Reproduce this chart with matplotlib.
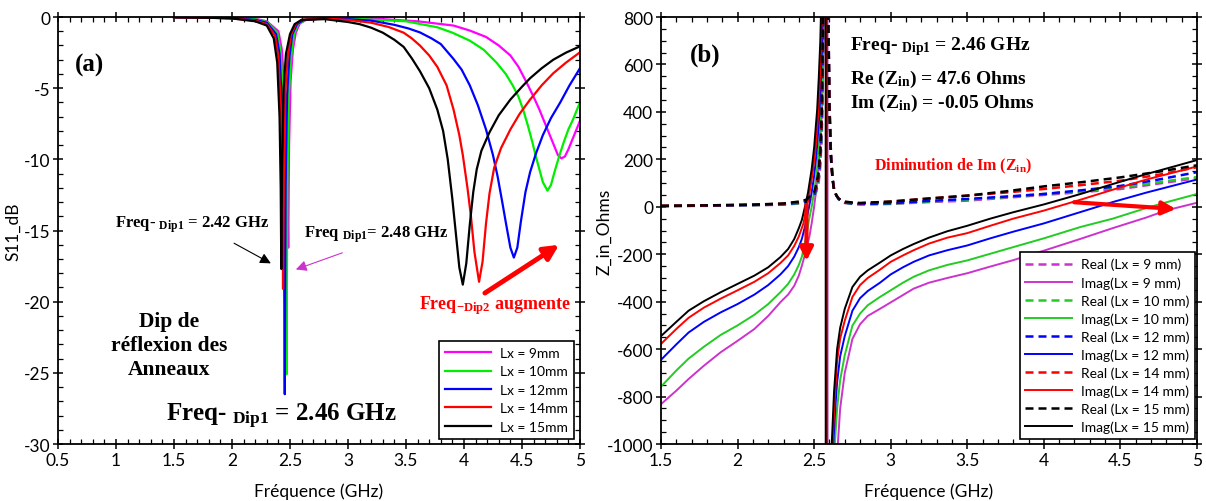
import matplotlib.pyplot as plt
from matplotlib.ticker import MultipleLocator

plt.rcParams['font.family'] = ['Lato', 'DejaVu Sans']
plt.rcParams['axes.unicode_minus'] = False
plt.rcParams['mathtext.fontset'] = 'custom'
plt.rcParams['mathtext.rm'] = 'Liberation Serif:bold'
plt.rcParams['mathtext.bf'] = 'Liberation Serif:bold'
plt.rcParams['mathtext.it'] = 'Liberation Serif:bold'

# ---------- (a) S11 (dB) ----------
f9 = [1.5, 1.8, 2.0, 2.2, 2.3, 2.4, 2.43, 2.46, 2.475, 2.485, 2.492, 2.505, 2.525, 2.55, 2.585, 2.64,
      2.8, 3.0, 3.3, 3.6, 3.91, 4.05, 4.19, 4.3, 4.4, 4.47, 4.54, 4.6, 4.65, 4.7, 4.74, 4.78, 4.81,
      4.84, 4.87, 4.9, 4.94, 4.97, 5.0]
s9 = [-0.01, -0.02, -0.05, -0.12, -0.3, -1.0, -2.3, -6.0, -10.5, -16.2, -9.0, -4.5, -2.3, -1.1, -0.45, -0.2,
      -0.07, -0.08, -0.15, -0.3, -0.6, -0.95, -1.4, -2.0, -2.7, -3.5, -4.6, -5.6, -6.5, -7.5, -8.3, -9.1, -9.7,
      -9.93, -9.8, -9.3, -8.5, -7.9, -7.3]

f10 = [1.5, 1.8, 2.0, 2.2, 2.3, 2.39, 2.42, 2.45, 2.462, 2.47, 2.477, 2.49, 2.51, 2.535, 2.57, 2.63,
       2.8, 3.0, 3.5, 3.77, 3.9, 4.05, 4.17, 4.28, 4.36, 4.42, 4.47, 4.51, 4.55, 4.59, 4.62, 4.65, 4.68,
       4.72, 4.75, 4.78, 4.82, 4.86, 4.9, 4.94, 5.0]
s10 = [-0.01, -0.03, -0.06, -0.15, -0.35, -1.1, -2.5, -7.0, -13.0, -25.1, -12.0, -5.5, -2.8, -1.2, -0.5, -0.2,
       -0.08, -0.1, -0.3, -0.72, -1.1, -1.66, -2.3, -3.2, -4.0, -4.8, -5.6, -6.5, -7.6, -8.8, -9.8, -10.7, -11.6,
       -12.2, -11.8, -10.9, -9.8, -8.8, -7.9, -7.2, -6.0]

f12 = [1.5, 1.8, 2.0, 2.2, 2.3, 2.38, 2.41, 2.435, 2.447, 2.455, 2.462, 2.475, 2.495, 2.52, 2.56, 2.62,
       2.8, 3.0, 3.2, 3.4, 3.52, 3.62, 3.72, 3.8, 3.91, 3.98, 4.05, 4.12, 4.19, 4.25, 4.29, 4.33, 4.36,
       4.40, 4.43, 4.46, 4.49, 4.53, 4.57, 4.62, 4.68, 4.75, 4.83, 4.91, 5.0]
s12 = [-0.02, -0.04, -0.08, -0.2, -0.4, -1.2, -2.6, -7.0, -13.0, -26.5, -12.0, -5.5, -2.8, -1.2, -0.5, -0.2,
       -0.1, -0.15, -0.25, -0.55, -0.8, -1.08, -1.5, -1.9, -2.95, -3.7, -4.8, -6.2, -7.9, -9.7, -11.2, -13.0, -14.4,
       -16.2, -16.9, -16.2, -14.4, -12.3, -10.9, -9.6, -8.3, -7.1, -6.0, -4.8, -3.6]

f14 = [1.5, 1.8, 2.0, 2.2, 2.3, 2.37, 2.40, 2.425, 2.435, 2.44, 2.447, 2.46, 2.48, 2.51, 2.55, 2.6,
       2.8, 3.0, 3.2, 3.35, 3.48, 3.55, 3.62, 3.7, 3.77, 3.85, 3.91, 3.96, 3.99, 4.03, 4.06, 4.09, 4.13,
       4.16, 4.19, 4.22, 4.26, 4.32, 4.4, 4.48, 4.57, 4.67, 4.77, 4.88, 5.0]
s14 = [-0.02, -0.05, -0.1, -0.25, -0.5, -1.3, -2.8, -7.0, -12.5, -19.1, -11.0, -5.2, -2.8, -1.2, -0.5, -0.2,
       -0.1, -0.2, -0.4, -0.7, -1.1, -1.5, -2.0, -2.7, -3.5, -4.8, -6.5, -8.3, -9.7, -12.0, -14.0, -16.5, -18.6,
       -17.2, -14.5, -12.4, -10.6, -9.2, -7.9, -6.8, -5.8, -4.8, -3.95, -3.2, -2.48]

f15 = [1.5, 1.8, 2.0, 2.2, 2.3, 2.36, 2.39, 2.41, 2.42, 2.425, 2.432, 2.445, 2.465, 2.5, 2.54, 2.6,
       2.8, 3.0, 3.1, 3.2, 3.3, 3.4, 3.48, 3.55, 3.62, 3.7, 3.77, 3.82, 3.86, 3.9, 3.93, 3.96, 3.99,
       4.02, 4.05, 4.08, 4.11, 4.15, 4.22, 4.3, 4.4, 4.5, 4.57, 4.67, 4.77, 4.88, 5.0]
s15 = [-0.02, -0.05, -0.1, -0.3, -0.6, -1.5, -3.2, -7.0, -12.0, -17.7, -10.5, -5.0, -2.6, -1.2, -0.5, -0.2,
       -0.15, -0.35, -0.5, -0.75, -1.1, -1.6, -2.1, -2.9, -3.8, -5.0, -6.5, -8.0, -10.0, -12.8, -15.2, -17.6, -18.8,
       -17.3, -14.6, -12.3, -10.7, -9.4, -8.1, -6.9, -5.8, -4.9, -4.3, -3.6, -3.0, -2.5, -2.06]

labels_a = ['Lx = 9mm', 'Lx = 10mm', 'Lx = 12mm', 'Lx = 14mm', 'Lx = 15mm']

# ---------- (b) Z_in (Ohms) ----------
fr = [1.5, 1.8, 2.1, 2.3, 2.4, 2.45, 2.5, 2.515, 2.53, 2.54, 2.55, 2.56, 2.575, 2.59, 2.6, 2.61, 2.62,
      2.63, 2.645, 2.66, 2.68, 2.7, 2.75, 2.8, 3.0, 3.25, 3.5, 3.75, 4.0, 4.25, 4.5, 4.75, 5.0]
re9 = [3, 4, 6, 9, 14, 20, 40, 65, 105, 170, 300, 700, 2100, 950, 430, 220, 125, 75, 48, 32, 22, 16, 12, 10,
       12, 20, 26, 38, 50, 62, 75, 98, 121]
re10 = [3, 5, 7, 10, 15, 22, 44, 70, 115, 185, 320, 750, 2200, 950, 430, 220, 125, 75, 48, 32, 23, 17, 13, 11,
        13, 22, 30, 41, 54, 66, 82, 104, 125]
re12 = [3, 5, 8, 11, 17, 24, 48, 78, 125, 200, 350, 800, 2300, 950, 430, 220, 125, 75, 49, 33, 24, 18, 14, 12,
        15, 25, 33, 43, 54, 70, 88, 115, 146]
re14 = [4, 6, 9, 13, 20, 28, 55, 88, 140, 225, 380, 850, 2400, 950, 420, 210, 120, 72, 48, 34, 26, 20, 17, 15,
        22, 35, 47, 60, 75, 92, 110, 135, 167]
re15 = [4, 6, 9, 14, 22, 30, 60, 95, 150, 240, 400, 900, 2500, 900, 400, 200, 115, 70, 48, 35, 27, 22, 18, 16,
        22, 35, 47, 65, 86, 104, 124, 148, 175]

fi9 = [1.5, 1.6, 1.68, 1.78, 1.89, 2.0, 2.11, 2.2, 2.28, 2.33, 2.37, 2.4, 2.42, 2.445, 2.47, 2.485, 2.5,
       2.515, 2.53, 2.54, 2.55, 2.558, 2.565, 2.575, 2.587, 2.588, 2.63, 2.655, 2.67, 2.7, 2.75, 2.8,
       2.85, 2.93, 3.0, 3.08, 3.15, 3.25, 3.37, 3.5, 3.65, 3.8, 4.0, 4.24, 4.45, 4.67, 4.8, 5.0]
im9 = [-832, -775, -726, -670, -613, -565, -515, -460, -402, -370, -333, -290, -248, -190, -122, -65, 0,
       80, 180, 270, 400, 550, 750, 1200, 4000, -4000, -1400, -1000, -850, -700, -557, -495,
       -460, -430, -403, -372, -345, -320, -300, -280, -252, -225, -185, -135, -90, -45, -15, 17]

fi10 = [1.5, 1.6, 1.68, 1.78, 1.89, 2.0, 2.11, 2.2, 2.28, 2.33, 2.37, 2.4, 2.42, 2.45, 2.465, 2.484, 2.5,
        2.515, 2.53, 2.54, 2.55, 2.558, 2.565, 2.575, 2.584, 2.585, 2.615, 2.635, 2.65, 2.67, 2.7, 2.75, 2.8,
        2.85, 2.93, 3.0, 3.08, 3.15, 3.25, 3.37, 3.5, 3.65, 3.8, 4.0, 4.24, 4.45, 4.67, 4.8, 5.0]
im10 = [-758, -690, -640, -590, -540, -500, -455, -410, -360, -325, -285, -245, -210, -120, -60, 0, 65,
        130, 240, 350, 490, 650, 900, 1500, 4000, -4000, -1400, -1000, -850, -730, -625, -501, -450,
        -415, -380, -352, -320, -295, -268, -245, -226, -198, -170, -133, -85, -50, -5, 19, 54]

fi12 = [1.5, 1.6, 1.68, 1.78, 1.89, 2.0, 2.11, 2.2, 2.28, 2.33, 2.37, 2.4, 2.42, 2.445, 2.467, 2.485, 2.5,
        2.515, 2.53, 2.54, 2.55, 2.56, 2.57, 2.581, 2.582, 2.61, 2.625, 2.64, 2.65, 2.67, 2.7, 2.75, 2.8,
        2.85, 2.93, 3.0, 3.08, 3.15, 3.25, 3.37, 3.5, 3.65, 3.8, 4.0, 4.24, 4.45, 4.67, 4.85, 5.0]
im12 = [-645, -580, -530, -485, -445, -410, -370, -330, -285, -250, -210, -170, -135, -70, 0, 65, 130,
        220, 350, 470, 650, 900, 1500, 4000, -4000, -1400, -1000, -830, -740, -630, -545, -438, -385,
        -355, -320, -285, -255, -232, -205, -183, -163, -133, -105, -70, -22, 20, 60, 90, 115]

fi14 = [1.5, 1.6, 1.68, 1.78, 1.89, 2.0, 2.11, 2.2, 2.28, 2.33, 2.37, 2.4, 2.43, 2.452, 2.47, 2.49, 2.51,
        2.525, 2.535, 2.545, 2.555, 2.565, 2.578, 2.579, 2.605, 2.62, 2.635, 2.65, 2.67, 2.7, 2.75, 2.8,
        2.85, 2.93, 3.0, 3.08, 3.15, 3.25, 3.37, 3.5, 3.65, 3.8, 4.0, 4.24, 4.45, 4.67, 4.85, 5.0]
im14 = [-578, -515, -468, -425, -387, -352, -316, -280, -237, -205, -165, -125, -70, 0, 60, 140, 250,
        380, 500, 680, 950, 1400, 4000, -4000, -1400, -1000, -800, -650, -555, -480, -380, -330,
        -300, -265, -232, -205, -183, -155, -130, -111, -80, -50, -16, 30, 72, 115, 145, 170]

fi15 = [1.5, 1.6, 1.68, 1.78, 1.89, 2.0, 2.11, 2.2, 2.28, 2.33, 2.37, 2.4, 2.42, 2.44, 2.46, 2.484, 2.5,
        2.52, 2.53, 2.54, 2.55, 2.56, 2.575, 2.576, 2.6, 2.615, 2.63, 2.65, 2.67, 2.7, 2.75, 2.8,
        2.85, 2.93, 3.0, 3.08, 3.15, 3.25, 3.37, 3.5, 3.65, 3.8, 4.0, 4.24, 4.45, 4.67, 4.85, 5.0]
im15 = [-545, -485, -438, -398, -360, -325, -290, -255, -212, -178, -136, -90, -55, 0, 60, 159, 250,
        412, 540, 695, 950, 1400, 4000, -4000, -1400, -1000, -780, -600, -510, -430, -338, -295,
        -268, -235, -205, -178, -157, -130, -103, -80, -50, -23, 10, 54, 96, 138, 170, 197]

lx_b = ['9', '10', '12', '14', '15']

# ---------- figure ----------
fig = plt.figure(figsize=(12.06, 5.02), dpi=100)
ax1 = fig.add_axes([0.0481, 0.1135, 0.4328, 0.8506])
ax2 = fig.add_axes([0.5481, 0.1135, 0.4444, 0.8506])

cols_a = ['#ff00ff', '#00ee00', '#0000ff', '#ff0000', '#000000']
for f, s, c, lab in zip([f9, f10, f12, f14, f15], [s9, s10, s12, s14, s15], cols_a, labels_a):
    ax1.plot(f, s, color=c, lw=1.6, label=lab)

ax1.set_xlim(0.5, 5)
ax1.set_ylim(-30, 0)
ax1.xaxis.set_minor_locator(MultipleLocator(0.1))
ax1.yaxis.set_major_locator(MultipleLocator(5))
ax1.yaxis.set_minor_locator(MultipleLocator(1))
ax1.set_xticks([0.5, 1, 1.5, 2, 2.5, 3, 3.5, 4, 4.5, 5], ['0.5', '1', '1.5', '2', '2.5', '3', '3.5', '4', '4.5', '5'])
ax1.set_xlabel('Fréquence (GHz)', fontsize=12.5)
ax1.set_ylabel('S11_dB', fontsize=12.5)
ax1.xaxis.set_label_coords(0.5, -0.09)
ax1.yaxis.set_label_coords(-0.071, 0.5)

leg1 = ax1.legend(loc='lower right', bbox_to_anchor=(0.988, 0.012), borderaxespad=0, fontsize=10,
                  frameon=True, fancybox=False, edgecolor='black', framealpha=1,
                  handlelength=3.3, labelspacing=0.46, borderpad=0.45, handletextpad=0.6)
leg1.get_frame().set_linewidth(1.2)

serif = 'Liberation Serif'
ax1.text(0.77, -3.3, '(a)', fontsize=18, family=serif, weight='bold', ha='center', va='center')
ax1.text(1.66, -14.5, 'Freq- $_{\\mathrm{Dip1}}$ = 2.42 GHz', fontsize=12, family=serif, weight='bold',
         ha='center', va='center')
ax1.text(3.24, -15.25, 'Freq $_{\\mathrm{Dip1}}$= 2.48 GHz', fontsize=12, family=serif, weight='bold',
         ha='center', va='center')
ax1.text(1.457, -23.05, 'Dip de\nréflexion des\nAnneaux', fontsize=15.5, family=serif, weight='bold',
         ha='center', va='center', multialignment='center', linespacing=1.25)
ax1.text(2.43, -28.0, 'Freq- $_{\\mathrm{Dip1}}$ = 2.46 GHz', fontsize=18, family=serif, weight='bold',
         ha='center', va='center')
ax1.text(4.27, -20.2, 'Freq$_{\\mathrm{-Dip2}}$ augmente', fontsize=13, family=serif, weight='bold',
         color='#ff0000', ha='center', va='center')

ax1.annotate('', xy=(2.356, -17.4), xytext=(1.997, -15.8),
             arrowprops=dict(arrowstyle='-|>', color='black', lw=0.8, mutation_scale=16))
ax1.annotate('', xy=(2.528, -17.8), xytext=(2.974, -16.5),
             arrowprops=dict(arrowstyle='-|>', color='#cc33cc', lw=0.8, mutation_scale=16))
ax1.annotate('', xy=(4.84, -15.9), xytext=(4.16, -19.5),
             arrowprops=dict(arrowstyle='-|>', color='#ff0000', lw=3.5, mutation_scale=22))

# (b)
cols_b = ['#cc33cc', '#22cc22', '#0000ff', '#ff0000', '#000000']
re_all = [re9, re10, re12, re14, re15]
fi_all = [fi9, fi10, fi12, fi14, fi15]
im_all = [im9, im10, im12, im14, im15]
for r, fi, im, c, lx in zip(re_all, fi_all, im_all, cols_b, lx_b):
    ax2.plot(fr, r, color=c, lw=1.8, linestyle=(0, (3.2, 2.0)), label='Real (Lx = %s mm)' % lx)
    ax2.plot(fi, im, color=c, lw=1.4, label='Imag(Lx = %s mm)' % lx)

ax2.set_xlim(1.5, 5)
ax2.set_ylim(-1000, 800)
ax2.xaxis.set_minor_locator(MultipleLocator(0.1))
ax2.yaxis.set_major_locator(MultipleLocator(200))
ax2.yaxis.set_minor_locator(MultipleLocator(50))
ax2.set_xticks([1.5, 2, 2.5, 3, 3.5, 4, 4.5, 5], ['1.5', '2', '2.5', '3', '3.5', '4', '4.5', '5'])
ax2.set_xlabel('Fréquence (GHz)', fontsize=12.5)
ax2.set_ylabel('Z_in_Ohms', fontsize=12.5)
ax2.xaxis.set_label_coords(0.5, -0.09)
ax2.yaxis.set_label_coords(-0.09, 0.5)

leg2 = ax2.legend(loc='lower right', bbox_to_anchor=(0.996, 0.012), borderaxespad=0, fontsize=10,
                  frameon=True, fancybox=False, edgecolor='black', framealpha=1,
                  handlelength=3.4, labelspacing=0.4, borderpad=0.4, handletextpad=0.6)
leg2.get_frame().set_linewidth(1.2)

ax2.text(1.787, 644, '(b)', fontsize=18, family=serif, weight='bold', ha='center', va='center')
ax2.text(2.735, 679, 'Freq- $_{\\mathrm{Dip1}}$ = 2.46 GHz', fontsize=14, family=serif, weight='bold',
         ha='left', va='center')
ax2.text(2.735, 539, 'Re (Z$_{\\mathrm{in}}$) = 47.6 Ohms', fontsize=14, family=serif, weight='bold',
         ha='left', va='center')
ax2.text(2.735, 440, 'Im (Z$_{\\mathrm{in}}$) = -0.05 Ohms', fontsize=14, family=serif, weight='bold',
         ha='left', va='center')
ax2.text(3.41, 173, 'Diminution de Im (Z$_{\\mathrm{in}}$)', fontsize=11.5, family=serif, weight='bold',
         color='#ff0000', ha='center', va='center')

ax2.annotate('', xy=(2.45, -240), xytext=(2.45, 20),
             arrowprops=dict(arrowstyle='-|>', color='#ff0000', lw=3, mutation_scale=20))
ax2.annotate('', xy=(4.88, -10), xytext=(4.18, 20),
             arrowprops=dict(arrowstyle='-|>', color='#ff0000', lw=3, mutation_scale=20))

for ax in (ax1, ax2):
    for sp in ax.spines.values():
        sp.set_linewidth(1.3)
    ax.tick_params(which='major', direction='inout', length=7, width=1.1, top=True, right=True,
                   labelsize=12.5, pad=2)
    ax.tick_params(which='minor', direction='in', length=3.5, width=0.9, top=True, right=True)

plt.savefig('out.png', dpi=100)
